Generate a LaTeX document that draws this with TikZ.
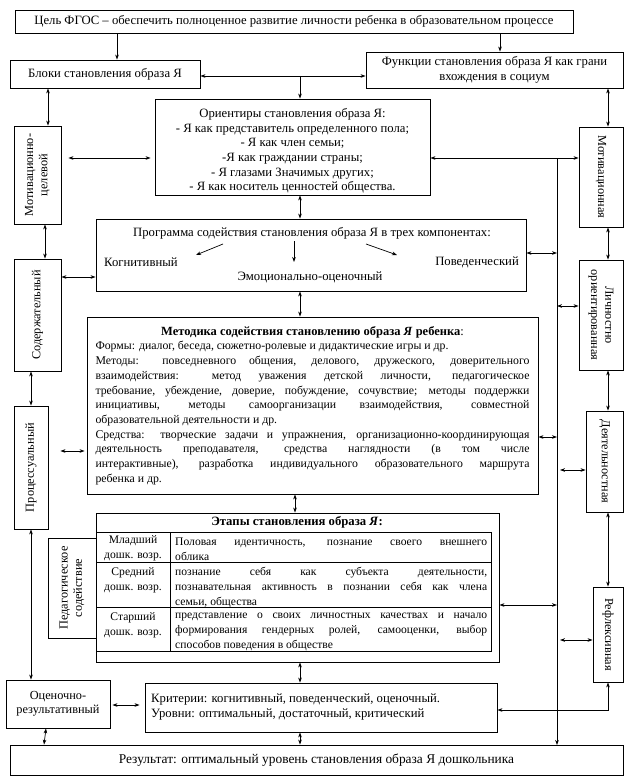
\documentclass[tikz,border=0pt]{standalone}
\usepackage{fontspec}
\setmainfont{Liberation Serif}
\usetikzlibrary{arrows.meta,calc}
\newcommand\myfs{\fontsize{12.7}{14.6}\selectfont}
\newcommand\myfsr{\fontsize{12.3}{14.2}\selectfont}
\newcommand\myfsm{\fontsize{11.8}{14.7}\selectfont}
\newcommand\myfst{\fontsize{11.6}{15}\selectfont}
\begin{document}
\begin{tikzpicture}[x=1pt,y=-1pt,
  box/.style={draw, line width=0.9pt, inner sep=0pt, align=center, font=\myfs},
  rot/.style={align=center, font=\myfsr, inner sep=0pt},
  txt/.style={font=\myfs, inner sep=0pt},
  ttxt/.style={font=\myfst, inner sep=0pt},
  arr/.style={-{Stealth[length=5pt,width=3.6pt]}, line width=0.7pt},
  dbl/.style={{Stealth[length=5pt,width=3.6pt]}-{Stealth[length=5pt,width=3.6pt]}, line width=0.7pt},
  tline/.style={line width=0.9pt}]
\useasboundingbox (0,0) rectangle (633,781);
% boxes
\node[box, minimum width=558pt, minimum height=23pt] (top) at (294,21.5) {Цель ФГОС – обеспечить полноценное развитие личности ребенка в образовательном процессе};
\node[box, minimum width=190pt, minimum height=28pt] (bloki) at (105,74) {Блоки становления образа Я};
\node[box, minimum width=257pt, minimum height=36pt] (func) at (494.5,70) {Функции становления образа Я как грани\\вхождения в социум};
\node[box, minimum width=275pt, minimum height=96pt] (orient) at (292.5,147) {};
\node[txt, align=center] (orientt) at (292.5,151) {Ориентиры становления образа Я:\\- Я как представитель определенного пола;\\- Я как член семьи;\\-Я как граждании страны;\\- Я глазами Значимых других;\\- Я как носитель ценностей общества.};
\node[box, minimum width=47pt, minimum height=98pt] (motc) at (37.5,175) {};
\node[rot, rotate=90] (motct) at (motc.center) {Мотивационно-\\целевой};
\node[box, minimum width=47pt, minimum height=112pt] (soder) at (37.5,315) {};
\node[rot, rotate=90] (sodert) at (soder.center) {Содержательный};
\node[box, minimum width=34pt, minimum height=123pt] (proc) at (31,467.5) {};
\node[rot, rotate=90] (proct) at (proc.center) {Процессуальный};
\node[box, minimum width=48pt, minimum height=100pt] (ped) at (72,588) {};
\node[rot, rotate=90] (pedt) at (ped.center) {Педагогическое\\содействие};
\node[box, minimum width=104pt, minimum height=48pt, font=\myfsr] (ocen) at (58,704) {Оценочно-\\результативный};
% Программа
\node[box, minimum width=430pt, minimum height=72pt] (prog) at (311,255) {};
\node[txt] (progt) at (312,233) {Программа содействия становления образа Я в трех компонентах:};
\node[txt, anchor=west] (kog) at (104,262) {Когнитивный};
\node[txt, anchor=east] (pov) at (519,262) {Поведенческий};
\node[txt] (emo) at (310,277) {Эмоционально-оценочный};
\coordinate (pa1) at (223,244); \coordinate (pa2) at (196,255);
\coordinate (pb1) at (366,244); \coordinate (pb2) at (397,255);
\coordinate (pc1) at (294,241); \coordinate (pc2) at (294,262);
\draw[arr] (pa1) -- (pa2);
\draw[arr] (pb1) -- (pb2);
\draw[arr] (pc1) -- (pc2);
% Методика
\node[box, text width=434pt, inner xsep=8.5pt, minimum height=177pt, align=justify, font=\myfsm] (metod) at (312.5,405.5) {%
\makebox[434pt]{\fontsize{12.5}{14.7}\selectfont\textbf{Методика содействия становлению образа \textit{Я} ребенка}:}\\
Формы: диалог, беседа, сюжетно-ролевые и дидактические игры и~др.\\
Методы: повседневного общения, делового, дружеского, доверительного\linebreak
взаимодействия: метод уважения детской личности, педагогическое\linebreak
требование, убеждение, доверие, побуждение, сочувствие; методы поддержки\linebreak
инициативы, методы самоорганизации взаимодействия, совместной\linebreak
образовательной деятельности и~др.\\
Средства: творческие задачи и упражнения, организационно-координирующая\linebreak
деятельность преподавателя, средства наглядности (в том числе\linebreak
интерактивные), разработка индивидуального образовательного маршрута\linebreak
ребенка и~др.};
% Этапы
\node[box, minimum width=403pt, minimum height=149pt] (etapy) at (297.5,587.5) {};
\node[txt, font=\myfs\bfseries] (etit) at (297,522) {Этапы становления образа \textit{Я}:};
\draw[tline] (96,532) rectangle (491,651);
\draw[tline] (96,562) -- (491,562);
\draw[tline] (96,607) -- (491,607);
\draw[tline] (170,532) -- (170,651);
\node[ttxt, align=center] (r1a) at (133,548) {Младший\\дошк. возр.};
\node[ttxt, align=center] (r2a) at (133,580) {Средний\\дошк. возр.};
\node[ttxt, align=center] (r3a) at (133,625) {Старший\\дошк. возр.};
\node[ttxt, anchor=north west, text width=312pt, align=justify] (r1b) at (175,538) {Половая идентичность, познание своего внешнего\linebreak облика};
\node[ttxt, anchor=north west, text width=312pt, align=justify] (r2b) at (175,567) {познание себя как субъекта деятельности,\linebreak познавательная активность в познании себя как члена\linebreak семьи, общества};
\node[ttxt, anchor=north west, text width=312pt, align=justify] (r3b) at (175,613) {представление о своих личностных качествах и начало\linebreak формирования гендерных ролей, самооценки, выбор\linebreak способов поведения в обществе};
% Критерии, Результат
\node[box, minimum width=352pt, minimum height=49pt] (krit) at (321,707.5) {};
\node[txt, anchor=west, align=left] (kritt) at (151,707) {Критерии: когнитивный, поведенческий, оценочный.\\Уровни: оптимальный, достаточный, критический};
\node[box, minimum width=613pt, minimum height=30pt, font=\fontsize{13.4}{15}\selectfont] (rez) at (316.5,760) {Результат: оптимальный уровень становления образа Я дошкольника};
% right column
\node[box, minimum width=44pt, minimum height=100pt] (motr) at (601,177) {};
\node[rot, rotate=-90] (motrt) at (motr.center) {Мотивационная};
\node[box, minimum width=44pt, minimum height=110pt] (lich) at (601,315) {};
\node[rot, rotate=-90] (licht) at (lich.center) {Личностно\\ориентированная};
\node[box, minimum width=37pt, minimum height=101pt] (deyat) at (604.5,461.5) {};
\node[rot, rotate=-90] (deyatt) at (deyat.center) {Деятельностная};
\node[box, minimum width=30pt, minimum height=95pt] (refl) at (608,634.5) {};
\node[rot, rotate=-90] (reflt) at (refl.center) {Рефлексивная};
% helper coordinates
\coordinate (cR) at (608,0);
\coordinate (jB) at (300,76);
\coordinate (busTop) at (557,158);
\coordinate (busBot) at (557,745);
\coordinate (kr) at (608,710);
% connectors
\draw[arr] (top.south -| 117,0) -- (bloki.north -| 117,0);
\draw[arr] (top.south -| 500,0) -- (func.north -| 500,0);
\draw[dbl] (bloki.east |- jB) -- (func.west |- jB);
\draw[arr] (jB) -- (jB |- orient.north);
\draw[dbl] (bloki.south -| 48,0) -- (motc.north -| 48,0);
\draw[dbl] (func.south -| cR) -- (motr.north -| cR);
\draw[dbl] ($(motc.east |- busTop)+(7,0)$) -- ($(orient.west |- busTop)+(-4,0)$);
\draw[dbl] (orient.east |- busTop) -- (motr.west |- busTop);
\draw[arr] (busTop) -- (busBot);
\draw[dbl] (orient.south -| 300,0) -- (prog.north -| 300,0);
\draw[dbl] (motc.south -| 45,0) -- (soder.north -| 45,0);
\draw[dbl] (soder.east |- 0,277) -- (prog.west |- 0,277);
\draw[dbl] (prog.east |- 0,253) -- (557,253);
\draw[dbl] (motr.south -| cR) -- (lich.north -| cR);
\draw[dbl] (557,306) -- (lich.west |- 0,306);
\draw[dbl] (prog.south -| 300,0) -- (metod.north -| 300,0);
\draw[dbl] (soder.south -| 31,0) -- (proc.north -| 31,0);
\draw[dbl] ($(proc.east |- 0,451)+(12,0)$) -- ($(metod.west |- 0,451)+(-2,0)$);
\draw[dbl] (metod.east |- 0,437) -- (557,437);
\draw[dbl] (lich.south -| cR) -- (deyat.north -| cR);
\draw[dbl] (560,470) -- (deyat.west |- 0,470);
\draw[dbl] (metod.south -| 295,0) -- (etapy.north -| 295,0);
\draw[dbl] (etapy.east |- 0,605) -- (557,605);
\draw[dbl] (deyat.south -| cR) -- (refl.north -| cR);
\draw[dbl] (560,640) -- (refl.west |- 0,640);
\draw[dbl] (proc.south -| 31,0) -- (ocen.north -| 31,0);
\draw[dbl] (etapy.south -| 300,0) -- (krit.north -| 300,0);
\draw[dbl] ($(ocen.east |- 0,705)+(2,0)$) -- ($(krit.west |- 0,705)+(-5,0)$);
\draw[dbl] (krit.east |- kr) -- (kr) -- (refl.south -| kr);
\draw[dbl] (krit.south -| 300,0) -- (rez.north -| 300,0);
\draw[dbl] (ocen.south -| 46,0) -- (rez.north -| 44,0);
\end{tikzpicture}
\end{document}
